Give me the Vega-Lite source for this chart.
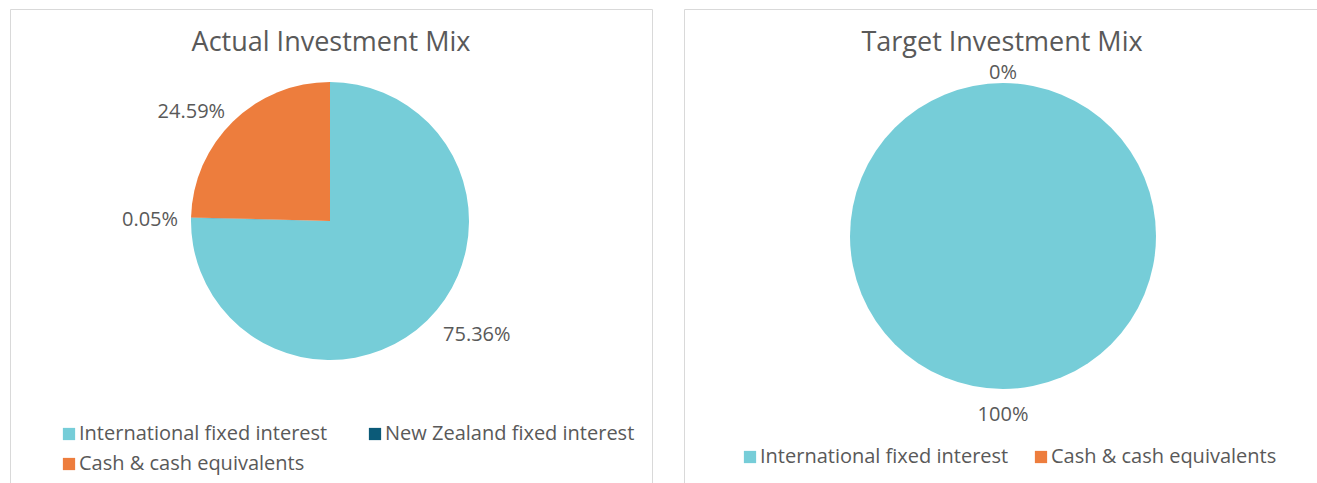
{
  "$schema": "https://vega.github.io/schema/vega-lite/v6.json",
  "padding": {"left": 9, "top": 8, "right": 0, "bottom": 0},
  "background": "white",
  "spacing": 30,
  "config": {
    "view": {"stroke": "#d9d9d9", "strokeWidth": 1},
    "title": {"font": "Open Sans", "fontSize": 27, "fontWeight": "normal", "color": "#595959", "anchor": "middle", "baseline": "alphabetic"},
    "legend": {"labelFont": "Open Sans", "labelFontSize": 20, "labelColor": "#595959", "symbolType": "square", "symbolSize": 150, "symbolStrokeWidth": 0, "labelOffset": 0, "rowPadding": 10, "labelLimit": 400}
  },
  "resolve": {"scale": {"color": "independent", "theta": "independent"}, "legend": {"color": "independent"}},
  "hconcat": [
    {
      "width": 642,
      "height": 475,
      "view": {"stroke": "#d9d9d9", "strokeWidth": 1},
      "title": {"text": "Actual Investment Mix", "offset": -48},
      "data": {"values": [
        {"category": "International fixed interest", "share": 0.7536, "rank": 1},
        {"category": "New Zealand fixed interest", "share": 0.0005, "rank": 2},
        {"category": "Cash & cash equivalents", "share": 0.2459, "rank": 3}
      ]},
      "encoding": {
        "theta": {"field": "share", "type": "quantitative", "stack": true},
        "order": {"field": "rank", "type": "quantitative"}
      },
      "layer": [
        {
          "mark": {"type": "arc", "radius": 139, "xOffset": -1, "yOffset": -25.5},
          "encoding": {
            "color": {
              "field": "category", "type": "nominal",
              "scale": {"domain": ["International fixed interest", "Cash & cash equivalents", "New Zealand fixed interest"], "range": ["#76CDD8", "#ED7D3D", "#0B5A78"]},
              "legend": {"title": null, "orient": "none", "legendX": 49, "legendY": 415, "columns": 2, "columnPadding": 37}
            }
          }
        },
        {
          "mark": {"type": "text", "radius": 156, "xOffset": 3, "yOffset": -23, "font": "Open Sans", "fontSize": 20, "color": "#595959", "baseline": "middle",
            "align": {"expr": "(datum.share_start + datum.share_end) / 2 > 0.5 ? 'right' : 'left'"}},
          "encoding": {
            "text": {"field": "share", "type": "quantitative", "format": ".2%"}
          }
        }
      ]
    },
    {
      "width": 636,
      "height": 475,
      "view": {"stroke": "#d9d9d9", "strokeWidth": 1},
      "title": {"text": "Target Investment Mix", "offset": -48},
      "data": {"values": [
        {"category": "International fixed interest", "share": 1.0, "rank": 1},
        {"category": "Cash & cash equivalents", "share": 0.0, "rank": 2}
      ]},
      "encoding": {
        "theta": {"field": "share", "type": "quantitative", "stack": true},
        "order": {"field": "rank", "type": "quantitative"}
      },
      "layer": [
        {
          "mark": {"type": "arc", "radius": 153, "xOffset": 1, "yOffset": -10.5},
          "encoding": {
            "color": {
              "field": "category", "type": "nominal",
              "scale": {"domain": ["International fixed interest", "Cash & cash equivalents"], "range": ["#76CDD8", "#ED7D3D"]},
              "legend": {"title": null, "orient": "none", "legendX": 56, "legendY": 438, "columns": 2, "columnPadding": 22}
            }
          }
        },
        {
          "mark": {"type": "text", "radius": 171, "xOffset": 1, "yOffset": -3, "font": "Open Sans", "fontSize": 20, "color": "#595959", "align": "center", "baseline": "middle"},
          "encoding": {
            "text": {"field": "share", "type": "quantitative", "format": ".0%"}
          }
        }
      ]
    }
  ]
}
